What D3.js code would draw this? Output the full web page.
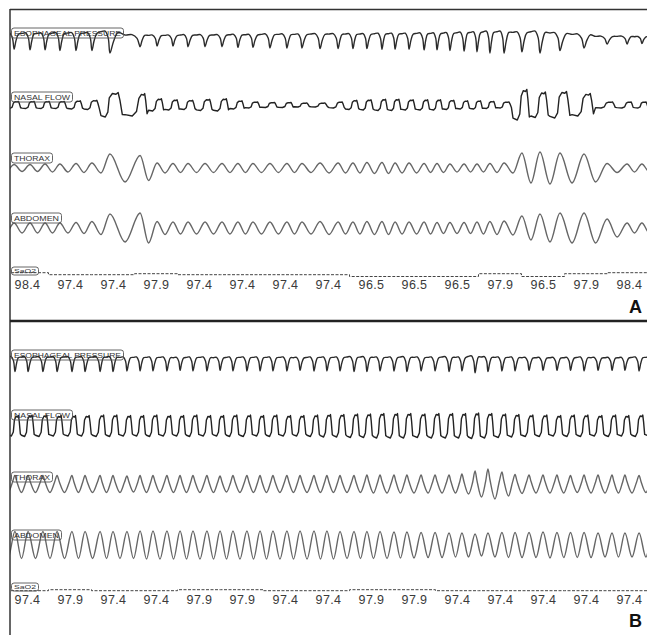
<!DOCTYPE html>
<html>
<head>
<meta charset="utf-8">
<script src="https://cdn.jsdelivr.net/npm/d3@7"></script>
<style>
  body { margin: 0; background: #fff; }
  svg { display: block; font-family: "Liberation Sans", Arial, sans-serif; }
</style>
</head>
<body>
<div id="chart"></div>
<script>
// breath times (s) in each 30 s epoch, shared by all channels of a panel
var timesA = [-0.35, 0.40, 1.14, 1.84, 2.53, 3.28, 4.02, 4.86, 6.26, 7.05, 7.79, 8.49, 9.28, 10.07,
  10.81, 11.51, 12.30, 13.09, 13.79, 14.63, 15.47, 16.16, 16.81, 17.51, 18.12, 18.77, 19.47, 20.07,
  20.67, 21.33, 21.93, 22.53, 23.19, 24.02, 24.86, 25.79, 26.91, 27.98, 28.91, 29.60, 30.30];
var timesB = [-0.2, 0.44, 1.05, 1.74, 2.40, 3.09, 3.70, 4.40, 5.00, 5.65, 6.26, 6.86, 7.51, 8.12,
  8.72, 9.37, 9.98, 10.58, 11.23, 11.84, 12.44, 13.09, 13.70, 14.35, 14.95, 15.56, 16.21, 16.81,
  17.42, 18.07, 18.67, 19.33, 19.98, 20.63, 21.23, 21.84, 22.44, 23.09, 23.70, 24.35, 25.00, 25.65,
  26.28, 26.91, 27.56, 28.21, 28.81, 29.47, 30.10];

// breath amplitudes (a.u.)
var esoA = [16, 16, 17, 17, 18, 18, 18, 22, 12, 11, 11, 12, 12, 12, 13, 13, 14, 14, 14, 15,
  15, 15, 15, 16, 16, 16, 17, 17, 18, 19, 20, 22, 22, 20, 22, 18, 14, 8, 8, 7, 7];
var nasalA = [7, 7, 7, 7, 7, 8, 9, 24, 22, 12, 10, 9, 11, 12, 8, 6, 5, 5, 4, 4,
  6, 9, 10, 11, 11, 10, 10, 10, 9, 8, 8, 7, 6, 30, 25, 26, 22, 6, 6, 6, 6];
var thoraxA = [7, 7, 7, 8, 8, 9, 10, 28, 25, 10, 9, 9, 9, 9, 9, 9, 9, 9, 9, 10,
  10, 10, 11, 11, 10, 10, 9, 9, 8, 8, 8, 9, 10, 30, 32, 30, 28, 9, 8, 8, 8];
var abdomenA = [10, 10, 10, 10, 10, 11, 13, 28, 30, 13, 12, 12, 12, 12, 12, 12, 12, 12, 12, 13,
  12, 12, 13, 13, 12, 12, 12, 11, 11, 11, 12, 13, 14, 24, 28, 30, 30, 18, 10, 10, 10];

var esoB = [14, 15, 15, 15, 15, 15, 15, 15, 15, 14, 14, 14, 14, 13, 14, 14, 13, 14, 14, 14,
  14, 14, 13, 14, 14, 14, 15, 15, 14, 14, 15, 14, 14, 15, 14, 17, 15, 14, 14, 13,
  13, 13, 13, 14, 13, 13, 13, 14, 14];
var nasalB = [20, 20, 21, 21, 20, 20, 20, 21, 21, 20, 20, 21, 20, 20, 21, 20, 20, 21, 21, 20,
  21, 20, 20, 21, 22, 22, 23, 23, 24, 24, 24, 23, 24, 24, 24, 25, 24, 23, 22, 21,
  21, 20, 21, 21, 20, 21, 20, 21, 20];
var thoraxB = [17, 17, 17, 17, 17, 17, 17, 17, 17, 16, 17, 17, 17, 17, 17, 17, 16, 17, 17, 17,
  17, 17, 17, 17, 17, 17, 17, 18, 18, 18, 18, 18, 18, 18, 20, 26, 30, 24, 19, 18,
  18, 18, 17, 18, 18, 18, 18, 17, 17];
var abdomenB = [26, 27, 27, 27, 27, 27, 27, 27, 27, 27, 28, 28, 28, 28, 28, 28, 28, 28, 28, 28,
  28, 28, 28, 28, 28, 27, 27, 27, 27, 26, 26, 25, 25, 24, 24, 22, 24, 25, 25, 25,
  26, 25, 25, 25, 24, 24, 24, 24, 24];

// SaO2 readings, one every 2 s
var saoTimes = [1, 3, 5, 7, 9, 11, 13, 15, 17, 19, 21, 23, 25, 27, 29];
var saoA = [98.4, 97.4, 97.4, 97.9, 97.4, 97.4, 97.4, 97.4, 96.5, 96.5, 96.5, 97.9, 96.5, 97.9, 98.4];
var saoB = [97.4, 97.9, 97.4, 97.4, 97.9, 97.9, 97.4, 97.4, 97.9, 97.9, 97.4, 97.4, 97.4, 97.4, 97.4];

var width = 647, height = 635;

// one cycle of each signal: [phase, fraction of amplitude]
var shapes = {
  eso: { pts: [[-0.5, 0.33], [-0.27, 0.36], [-0.1, 0.05], [0, -0.64], [0.12, -0.1], [0.27, 0.3]],
    curve: d3.curveCatmullRom.alpha(0.5) },
  nasal: { pts: [[-0.5, -0.44], [-0.26, -0.5], [-0.12, -0.3], [-0.04, 0.3], [0.08, 0.48], [0.2, 0.45],
    [0.27, 0.52], [0.33, 0.2], [0.41, -0.4]], curve: d3.curveLinear },
  wave: { pts: [[0, 0.5], [0.5, -0.5]], curve: d3.curveMonotoneX },
  saw: { pts: [[0, 0.5], [0.14, 0.15], [0.5, -0.5], [0.82, 0.1]], curve: d3.curveMonotoneX }
};

var panels = [
  {
    letter: "A", top: 9, bottom: 321, times: timesA, sao: saoA, saoBase: 275, saoText: 289,
    channels: [
      { label: "ESOPHAGEAL PRESSURE", w: 112, boxY: 28, base: 39, values: esoA, shape: "eso", color: "#2b2b2b" },
      { label: "NASAL FLOW", w: 61, boxY: 92, base: 105, values: nasalA, shape: "nasal", color: "#222" },
      { label: "THORAX", w: 41, boxY: 153, base: 168, values: thoraxA, shape: "wave", color: "#666" },
      { label: "ABDOMEN", w: 50, boxY: 213, base: 228, values: abdomenA, shape: "wave", color: "#666" }
    ]
  },
  {
    letter: "B", top: 321, bottom: 635, times: timesB, sao: saoB, saoBase: 591, saoText: 604,
    channels: [
      { label: "ESOPHAGEAL PRESSURE", w: 112, boxY: 350, base: 362, values: esoB, shape: "eso", color: "#2b2b2b" },
      { label: "NASAL FLOW", w: 61, boxY: 410, base: 426, values: nasalB, shape: "nasal", color: "#222" },
      { label: "THORAX", w: 41, boxY: 472, base: 484, values: thoraxB, shape: "saw", color: "#666" },
      { label: "ABDOMEN", w: 50, boxY: 530, base: 545, values: abdomenB, shape: "wave", color: "#666" }
    ]
  }
];

var svg = d3.select("#chart").append("svg")
  .attr("width", width)
  .attr("height", height);

var x = d3.scaleLinear().domain([0, 30]).range([5.5, 650.5]);

function cyclePoints(times, amps, shape) {
  var pts = [];
  times.forEach(function(t, i) {
    var gPrev = i > 0 ? t - times[i - 1] : times[1] - times[0];
    var gNext = i < times.length - 1 ? times[i + 1] - t : t - times[i - 1];
    shape.forEach(function(p) {
      var g = p[0] < 0 ? gPrev : gNext;
      pts.push([t + p[0] * g, p[1] * amps[i]]);
    });
  });
  return pts;
}

function drawLabel(g, text, bx, by, w, h) {
  g.append("rect")
    .attr("x", bx).attr("y", by)
    .attr("width", w).attr("height", h)
    .attr("rx", 2.5)
    .attr("fill", "none")
    .attr("stroke", "#555")
    .attr("stroke-width", 0.9);
  g.append("text")
    .attr("x", bx + 2.5).attr("y", by + h - 2)
    .attr("font-size", h - 2)
    .attr("fill", "#333")
    .attr("textLength", w - 5)
    .attr("lengthAdjust", "spacingAndGlyphs")
    .text(text);
}

panels.forEach(function(panel, pi) {
  var g = svg.append("g").attr("class", "panel");

  g.append("clipPath").attr("id", "clip" + pi)
    .append("rect")
    .attr("x", 10).attr("y", panel.top)
    .attr("width", width - 10).attr("height", panel.bottom - panel.top);

  var traces = g.append("g").attr("clip-path", "url(#clip" + pi + ")");

  panel.channels.forEach(function(ch) {
    var y = d3.scaleLinear().domain([-20, 20]).range([ch.base + 20, ch.base - 20]);
    var s = shapes[ch.shape];
    var line = d3.line()
      .x(function(d) { return x(d[0]); })
      .y(function(d) { return y(d[1]); })
      .curve(s.curve);

    traces.append("path")
      .datum(cyclePoints(panel.times, ch.values, s.pts))
      .attr("d", line)
      .attr("fill", "none")
      .attr("stroke", ch.color)
      .attr("stroke-width", 1.4)
      .attr("stroke-linejoin", "round");

    drawLabel(g, ch.label, 11.5, ch.boxY, ch.w, 10);
  });

  // SaO2 trace + readings
  var ySao = d3.scaleLinear().domain([96, 99]).range([panel.saoBase + 2.5, panel.saoBase - 3.5]);
  var saoPts = panel.sao.map(function(v, i) { return [saoTimes[i], v]; });
  saoPts.unshift([-1, panel.sao[0]]);
  saoPts.push([31, panel.sao[panel.sao.length - 1]]);

  traces.append("path")
    .datum(saoPts)
    .attr("d", d3.line()
      .x(function(d) { return x(d[0]); })
      .y(function(d) { return ySao(d[1]); })
      .curve(d3.curveStep))
    .attr("fill", "none")
    .attr("stroke", "#444")
    .attr("stroke-width", 1)
    .attr("stroke-dasharray", "3,1.5");

  var saoAxis = d3.axisBottom(x)
    .tickValues(saoTimes)
    .tickSize(0)
    .tickPadding(0)
    .tickFormat(function(d, i) { return panel.sao[i].toFixed(1); });

  var ax = g.append("g")
    .attr("class", "sao axis")
    .attr("transform", "translate(0," + (panel.saoText - 10) + ")")
    .call(saoAxis);
  ax.select(".domain").remove();
  ax.selectAll("text")
    .attr("font-family", "'Liberation Sans', Arial, sans-serif")
    .attr("font-size", 12.5)
    .attr("letter-spacing", 0.4)
    .attr("fill", "#3a3a3a")
    .attr("dy", 0)
    .attr("y", 10);

  drawLabel(g, "SaO2", 11.5, panel.saoBase - 8, 27, 8);

  g.append("text")
    .attr("x", 642)
    .attr("y", panel.bottom - 8)
    .attr("text-anchor", "end")
    .attr("font-size", 18)
    .attr("font-weight", "bold")
    .attr("fill", "#111")
    .text(panel.letter);
});

// frame
svg.append("line").attr("x1", 10).attr("x2", width).attr("y1", 9.5).attr("y2", 9.5)
  .attr("stroke", "#333").attr("stroke-width", 1.5);
svg.append("line").attr("x1", 10).attr("x2", 10).attr("y1", 9).attr("y2", height)
  .attr("stroke", "#333").attr("stroke-width", 1.5);
svg.append("line").attr("x1", 10).attr("x2", width).attr("y1", 321).attr("y2", 321)
  .attr("stroke", "#222").attr("stroke-width", 2.5);
</script>
</body>
</html>
